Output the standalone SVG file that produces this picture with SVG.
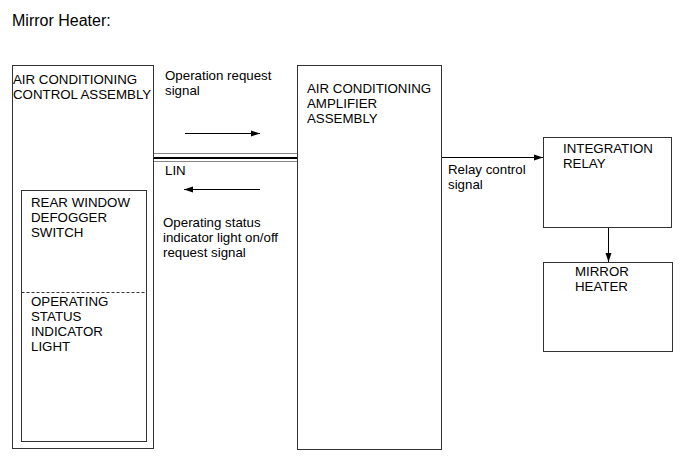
<svg xmlns="http://www.w3.org/2000/svg" width="690" height="465" viewBox="0 0 690 465">
<defs>
<marker id="ah" markerWidth="10" markerHeight="8" refX="9" refY="4" orient="auto" markerUnits="userSpaceOnUse">
<path d="M0,1 L9,4 L0,7 Z" fill="#000"/>
</marker>
<style>
text{font-family:"Liberation Sans",Arial,sans-serif;font-size:13.3px;fill:#000}
.box{fill:#fff;stroke:#333;stroke-width:1}
.conn{stroke:#000;stroke-width:1;fill:none}
</style>
</defs>
<rect width="690" height="465" fill="#fff"/>
<text x="12" y="26" style="font-size:16px">Mirror Heater:</text>

<g id="ac-control">
<rect class="box" x="12.5" y="65.5" width="141" height="383"/>
<text x="13" y="84">AIR CONDITIONING</text>
<text x="13" y="99">CONTROL ASSEMBLY</text>
</g>
<g id="inner-switch">
<rect class="box" x="21.5" y="190.5" width="125" height="251"/>
<line x1="21.5" y1="292.5" x2="146.5" y2="292.5" stroke="#333" stroke-dasharray="3,2"/>
<text x="31" y="207">REAR WINDOW</text>
<text x="31" y="222">DEFOGGER</text>
<text x="31" y="237">SWITCH</text>
<text x="31" y="306">OPERATING</text>
<text x="31" y="321">STATUS</text>
<text x="31" y="336">INDICATOR</text>
<text x="31" y="351">LIGHT</text>
</g>

<g id="ac-amplifier">
<rect class="box" x="297.5" y="65.5" width="144" height="384" stroke="#555"/>
<text x="307" y="93">AIR CONDITIONING</text>
<text x="307" y="108">AMPLIFIER</text>
<text x="307" y="123">ASSEMBLY</text>
</g>

<g id="integration-relay">
<rect class="box" x="543.5" y="137.5" width="128" height="90"/>
<text x="563" y="153">INTEGRATION</text>
<text x="563" y="168">RELAY</text>
</g>

<g id="mirror-heater">
<rect class="box" x="543.5" y="262.5" width="129" height="89"/>
<text x="575" y="276">MIRROR</text>
<text x="575" y="291">HEATER</text>
</g>

<g id="connectors">
<line x1="154" y1="153.5" x2="297" y2="153.5" stroke="#888" stroke-width="1"/>
<line x1="154" y1="158" x2="297" y2="158" stroke="#000" stroke-width="2"/>
<line x1="154" y1="161.5" x2="297" y2="161.5" stroke="#888" stroke-width="1"/>
<line class="conn" x1="185" y1="133.5" x2="260" y2="133.5" marker-end="url(#ah)"/>
<line class="conn" x1="260" y1="189.5" x2="184" y2="189.5" marker-end="url(#ah)"/>
<line class="conn" x1="442" y1="157.5" x2="543" y2="157.5" marker-end="url(#ah)"/>
<line class="conn" x1="608.5" y1="228" x2="608.5" y2="262" marker-end="url(#ah)"/>
</g>

<text x="165" y="80">Operation request</text>
<text x="165" y="95">signal</text>
<text x="165" y="175">LIN</text>
<text x="163" y="227">Operating status</text>
<text x="163" y="242">indicator light on/off</text>
<text x="163" y="257">request signal</text>
<text x="448" y="174">Relay control</text>
<text x="448" y="189">signal</text>
</svg>
